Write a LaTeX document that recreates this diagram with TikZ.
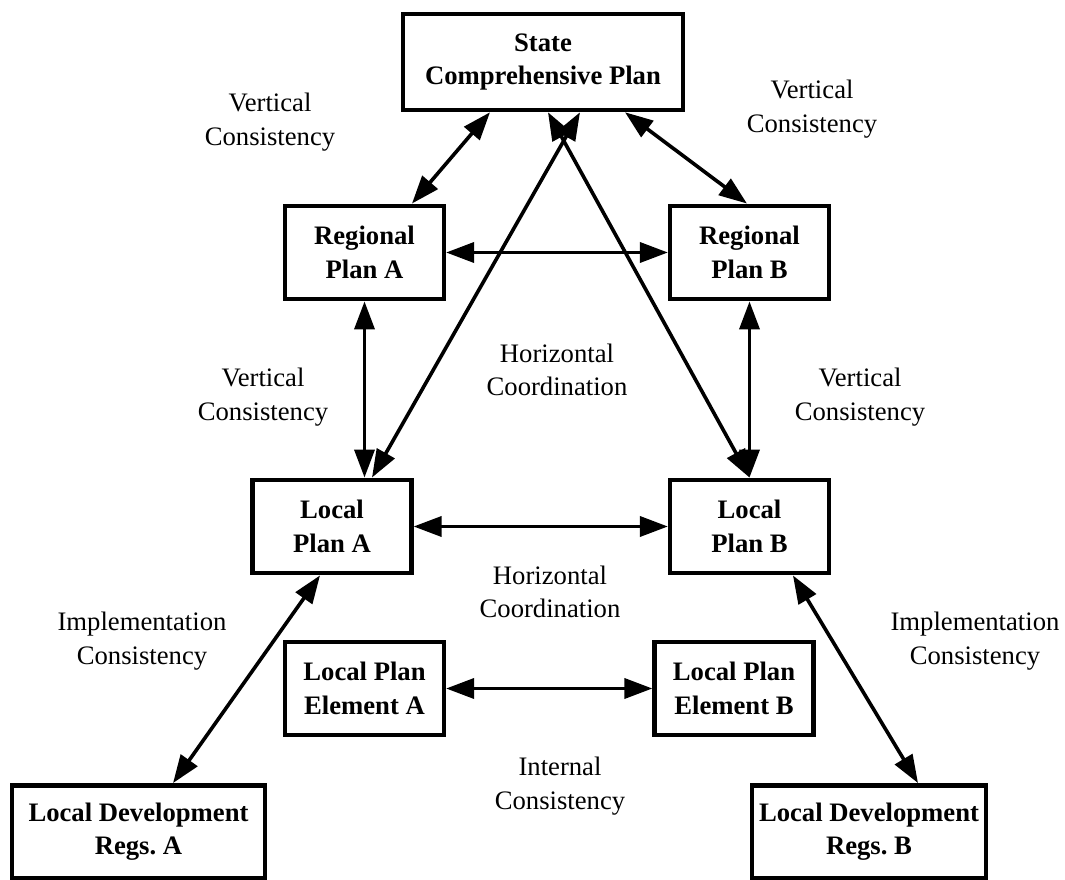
\documentclass[tikz,border=0pt]{standalone}
\usepackage{fontspec}
\setmainfont{Liberation Serif}
\frenchspacing
\usetikzlibrary{arrows.meta}

\begin{document}
\begin{tikzpicture}[x=0.75pt,y=-0.75pt]

        \useasboundingbox (0,0) rectangle (1065,880);

        \begin{scope}[every node/.style={draw,line width=3.4pt,align=center,
            font=\fontsize{20}{25}\selectfont\bfseries,
            minimum width=119pt,minimum height=70pt,inner sep=0pt}]
          \node[minimum width=210pt,minimum height=72pt] (state) at (543,62) {State\\Comprehensive Plan};
          \node (rega) at (364.5,252.5) {Regional\\Plan A};
          \node (regb) at (749.5,252.5) {Regional\\Plan B};
          \node (loca) at (332,526.5) {Local\\Plan A};
          \node (locb) at (749.5,526.5) {Local\\Plan B};
          \node (elea) at (364.5,688.5) {Local Plan\\Element A};
          \node (eleb) at (734,688.5) {Local Plan\\Element B};
          \node[minimum width=190pt] (deva) at (138.5,832) {Local Development\\Regs. A};
          \node[minimum width=175.5pt] (devb) at (869,832) {Local Development\\Regs. B};
        \end{scope}

        \begin{scope}[every node/.style={align=center,font=\fontsize{20}{25}\selectfont}]
          \node (vc1) at (270,122) {Vertical\\Consistency};
          \node (vc2) at (812,109) {Vertical\\Consistency};
          \node (hc1) at (557,370) {Horizontal\\Coordination};
          \node (vc3) at (263,397) {Vertical\\Consistency};
          \node (vc4) at (860,397) {Vertical\\Consistency};
          \node (hc2) at (550,592) {Horizontal\\Coordination};
          \node (ic1) at (142,641) {Implementation\\Consistency};
          \node (ic2) at (975,641) {Implementation\\Consistency};
          \node (int) at (560,786) {Internal\\Consistency};
        \end{scope}

        \begin{scope}[line width=2.7pt,
            {Triangle[length=21pt,width=15pt]}-{Triangle[length=21pt,width=15pt]}]
          \draw ([xshift=-39.75pt]state.south) -- ([xshift=35.6pt]rega.north);
          \draw ([xshift=61.5pt]state.south) -- ([xshift=-1.9pt]regb.north);
          \draw ([xshift=27.75pt]state.south) -- ([xshift=30pt]loca.north);
          \draw ([xshift=3.75pt]state.south) -- (locb.north);
          \draw (rega.east) -- (regb.west);
          \draw (rega.south) -- (rega.south |- loca.north);
          \draw (regb.south) -- (locb.north);
          \draw (loca.east) -- (locb.west);
          \draw (elea.east) -- (eleb.west);
          \draw ([xshift=-9pt]loca.south) -- ([xshift=25.9pt]deva.north);
          \draw ([xshift=32.6pt]locb.south) -- ([xshift=36.75pt]devb.north);
        \end{scope}

      \end{tikzpicture}
\end{document}
